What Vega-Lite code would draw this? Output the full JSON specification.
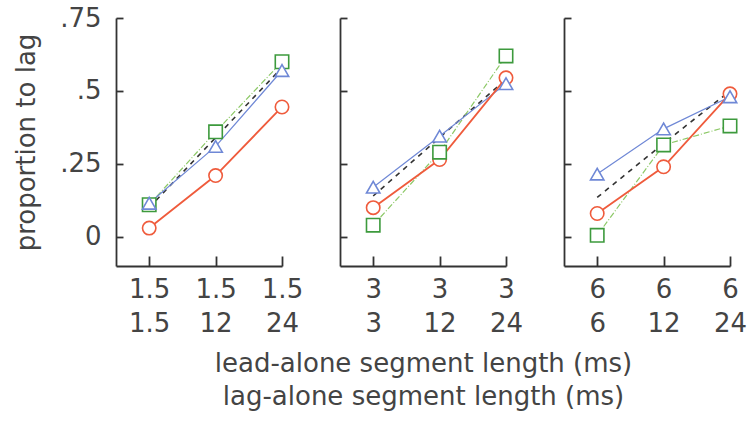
{
  "$schema": "https://vega.github.io/schema/vega-lite/v6.json",
  "background": "white",
  "padding": {"left": 13, "top": 5, "right": 5, "bottom": 5},
  "config": {
    "font": "DejaVu Sans",
    "view": {"stroke": null},
    "axis": {
      "grid": false,
      "domainColor": "#333333",
      "tickColor": "#333333",
      "domainWidth": 1.8,
      "tickWidth": 1.8,
      "labelColor": "#444444",
      "titleColor": "#444444",
      "labelFontSize": 26,
      "titleFontSize": 26,
      "titleFontWeight": "normal",
      "labelFont": "DejaVu Sans",
      "titleFont": "DejaVu Sans"
    }
  },
  "datasets": {
    "d": [
      {"lead": "1.5", "cond": "1.5|1.5", "series": "circle", "p": 0.03},
      {"lead": "1.5", "cond": "1.5|12", "series": "circle", "p": 0.21},
      {"lead": "1.5", "cond": "1.5|24", "series": "circle", "p": 0.445},
      {"lead": "1.5", "cond": "1.5|1.5", "series": "square", "p": 0.11},
      {"lead": "1.5", "cond": "1.5|12", "series": "square", "p": 0.36},
      {"lead": "1.5", "cond": "1.5|24", "series": "square", "p": 0.6},
      {"lead": "1.5", "cond": "1.5|1.5", "series": "triangle", "p": 0.115},
      {"lead": "1.5", "cond": "1.5|12", "series": "triangle", "p": 0.31},
      {"lead": "1.5", "cond": "1.5|24", "series": "triangle", "p": 0.57},
      {"lead": "1.5", "cond": "1.5|1.5", "series": "fit", "p": 0.1},
      {"lead": "1.5", "cond": "1.5|12", "series": "fit", "p": 0.34},
      {"lead": "1.5", "cond": "1.5|24", "series": "fit", "p": 0.58},
      {"lead": "3", "cond": "3|3", "series": "circle", "p": 0.1},
      {"lead": "3", "cond": "3|12", "series": "circle", "p": 0.265},
      {"lead": "3", "cond": "3|24", "series": "circle", "p": 0.545},
      {"lead": "3", "cond": "3|3", "series": "square", "p": 0.04},
      {"lead": "3", "cond": "3|12", "series": "square", "p": 0.29},
      {"lead": "3", "cond": "3|24", "series": "square", "p": 0.62},
      {"lead": "3", "cond": "3|3", "series": "triangle", "p": 0.17},
      {"lead": "3", "cond": "3|12", "series": "triangle", "p": 0.345},
      {"lead": "3", "cond": "3|24", "series": "triangle", "p": 0.525},
      {"lead": "3", "cond": "3|3", "series": "fit", "p": 0.14},
      {"lead": "3", "cond": "3|12", "series": "fit", "p": 0.34},
      {"lead": "3", "cond": "3|24", "series": "fit", "p": 0.54},
      {"lead": "6", "cond": "6|6", "series": "circle", "p": 0.08},
      {"lead": "6", "cond": "6|12", "series": "circle", "p": 0.24},
      {"lead": "6", "cond": "6|24", "series": "circle", "p": 0.49},
      {"lead": "6", "cond": "6|6", "series": "square", "p": 0.005},
      {"lead": "6", "cond": "6|12", "series": "square", "p": 0.315},
      {"lead": "6", "cond": "6|24", "series": "square", "p": 0.38},
      {"lead": "6", "cond": "6|6", "series": "triangle", "p": 0.215},
      {"lead": "6", "cond": "6|12", "series": "triangle", "p": 0.37},
      {"lead": "6", "cond": "6|24", "series": "triangle", "p": 0.48},
      {"lead": "6", "cond": "6|6", "series": "fit", "p": 0.135},
      {"lead": "6", "cond": "6|12", "series": "fit", "p": 0.32},
      {"lead": "6", "cond": "6|24", "series": "fit", "p": 0.5}
    ]
  },
  "bounds": "flush",
  "spacing": 58,
  "resolve": {"scale": {"x": "independent"}},
  "hconcat": [
    {
      "width": 166,
      "height": 248,
      "data": {"name": "d"},
      "transform": [{"filter": "datum.lead == '1.5'"}],
      "encoding": {
        "x": {"field": "cond", "type": "ordinal",
          "scale": {"type": "point", "domain": ["1.5|1.5", "1.5|12", "1.5|24"], "padding": 0.25, "align": 1},
          "axis": {"title": null, "labelAngle": 0, "labelExpr": "split(datum.label, '|')", "tickSize": -10, "labelPadding": 20, "labelLineHeight": 34, "labelBaseline": "top"}},
        "y": {"field": "p", "type": "quantitative",
          "scale": {"domain": [-0.1, 0.75], "nice": false, "zero": false},
          "axis": {"title": "proportion to lag", "values": [0, 0.25, 0.5, 0.75], "labelExpr": "datum.value == 0 ? '0' : replace(format(datum.value, '.2~f'), '0.', '.')", "tickSize": -7, "labelPadding": 22, "titlePadding": 20}}
      },
      "layer": [
        {"transform": [{"filter": "datum.series == 'fit'"}], "mark": {"type": "line", "color": "#333333", "strokeDash": [5, 5], "strokeWidth": 1.6}, "encoding": {}},
        {"transform": [{"filter": "datum.series == 'square'"}], "mark": {"type": "line", "color": "#8cc866", "strokeDash": [6, 2, 1, 2], "strokeWidth": 1.2}, "encoding": {}},
        {"transform": [{"filter": "datum.series == 'triangle'"}], "mark": {"type": "line", "color": "#6f88d6", "strokeWidth": 1.2}, "encoding": {}},
        {"transform": [{"filter": "datum.series == 'circle'"}], "mark": {"type": "line", "color": "#ef5b3c", "strokeWidth": 1.8}, "encoding": {}},
        {"transform": [{"filter": "datum.series != 'fit'"}],
          "mark": {"type": "point", "filled": true, "fill": "white", "size": 180, "strokeWidth": 1.6, "opacity": 1},
          "encoding": {
            "shape": {"field": "series", "type": "nominal", "scale": {"domain": ["square", "triangle", "circle"], "range": ["square", "triangle-up", "circle"]}, "legend": null},
            "stroke": {"field": "series", "type": "nominal", "scale": {"domain": ["square", "triangle", "circle"], "range": ["#3d9a3d", "#6f88d6", "#ef5b3c"]}, "legend": null}
          }}
      ]
    },
    {
      "width": 166,
      "height": 248,
      "data": {"name": "d"},
      "transform": [{"filter": "datum.lead == '3'"}],
      "encoding": {
        "x": {"field": "cond", "type": "ordinal",
          "scale": {"type": "point", "domain": ["3|3", "3|12", "3|24"], "padding": 0.25, "align": 1},
          "axis": {"title": ["lead-alone segment length (ms)", "lag-alone segment length (ms)"], "titleLineHeight": 33, "titlePadding": 14, "labelAngle": 0, "labelExpr": "split(datum.label, '|')", "tickSize": -10, "labelPadding": 20, "labelLineHeight": 34, "labelBaseline": "top"}},
        "y": {"field": "p", "type": "quantitative",
          "scale": {"domain": [-0.1, 0.75], "nice": false, "zero": false},
          "axis": {"title": null, "labels": false, "values": [0, 0.25, 0.5, 0.75], "tickSize": -7}}
      },
      "layer": [
        {"transform": [{"filter": "datum.series == 'fit'"}], "mark": {"type": "line", "color": "#333333", "strokeDash": [5, 5], "strokeWidth": 1.6}, "encoding": {}},
        {"transform": [{"filter": "datum.series == 'square'"}], "mark": {"type": "line", "color": "#8cc866", "strokeDash": [6, 2, 1, 2], "strokeWidth": 1.2}, "encoding": {}},
        {"transform": [{"filter": "datum.series == 'triangle'"}], "mark": {"type": "line", "color": "#6f88d6", "strokeWidth": 1.2}, "encoding": {}},
        {"transform": [{"filter": "datum.series == 'circle'"}], "mark": {"type": "line", "color": "#ef5b3c", "strokeWidth": 1.8}, "encoding": {}},
        {"transform": [{"filter": "datum.series != 'fit'"}],
          "mark": {"type": "point", "filled": true, "fill": "white", "size": 180, "strokeWidth": 1.6, "opacity": 1},
          "encoding": {
            "shape": {"field": "series", "type": "nominal", "scale": {"domain": ["square", "triangle", "circle"], "range": ["square", "triangle-up", "circle"]}, "legend": null},
            "stroke": {"field": "series", "type": "nominal", "scale": {"domain": ["square", "triangle", "circle"], "range": ["#3d9a3d", "#6f88d6", "#ef5b3c"]}, "legend": null}
          }}
      ]
    },
    {
      "width": 166,
      "height": 248,
      "data": {"name": "d"},
      "transform": [{"filter": "datum.lead == '6'"}],
      "encoding": {
        "x": {"field": "cond", "type": "ordinal",
          "scale": {"type": "point", "domain": ["6|6", "6|12", "6|24"], "padding": 0.25, "align": 1},
          "axis": {"title": null, "labelAngle": 0, "labelExpr": "split(datum.label, '|')", "tickSize": -10, "labelPadding": 20, "labelLineHeight": 34, "labelBaseline": "top"}},
        "y": {"field": "p", "type": "quantitative",
          "scale": {"domain": [-0.1, 0.75], "nice": false, "zero": false},
          "axis": {"title": null, "labels": false, "values": [0, 0.25, 0.5, 0.75], "tickSize": -7}}
      },
      "layer": [
        {"transform": [{"filter": "datum.series == 'fit'"}], "mark": {"type": "line", "color": "#333333", "strokeDash": [5, 5], "strokeWidth": 1.6}, "encoding": {}},
        {"transform": [{"filter": "datum.series == 'square'"}], "mark": {"type": "line", "color": "#8cc866", "strokeDash": [6, 2, 1, 2], "strokeWidth": 1.2}, "encoding": {}},
        {"transform": [{"filter": "datum.series == 'triangle'"}], "mark": {"type": "line", "color": "#6f88d6", "strokeWidth": 1.2}, "encoding": {}},
        {"transform": [{"filter": "datum.series == 'circle'"}], "mark": {"type": "line", "color": "#ef5b3c", "strokeWidth": 1.8}, "encoding": {}},
        {"transform": [{"filter": "datum.series != 'fit'"}],
          "mark": {"type": "point", "filled": true, "fill": "white", "size": 180, "strokeWidth": 1.6, "opacity": 1},
          "encoding": {
            "shape": {"field": "series", "type": "nominal", "scale": {"domain": ["square", "triangle", "circle"], "range": ["square", "triangle-up", "circle"]}, "legend": null},
            "stroke": {"field": "series", "type": "nominal", "scale": {"domain": ["square", "triangle", "circle"], "range": ["#3d9a3d", "#6f88d6", "#ef5b3c"]}, "legend": null}
          }}
      ]
    }
  ]
}
